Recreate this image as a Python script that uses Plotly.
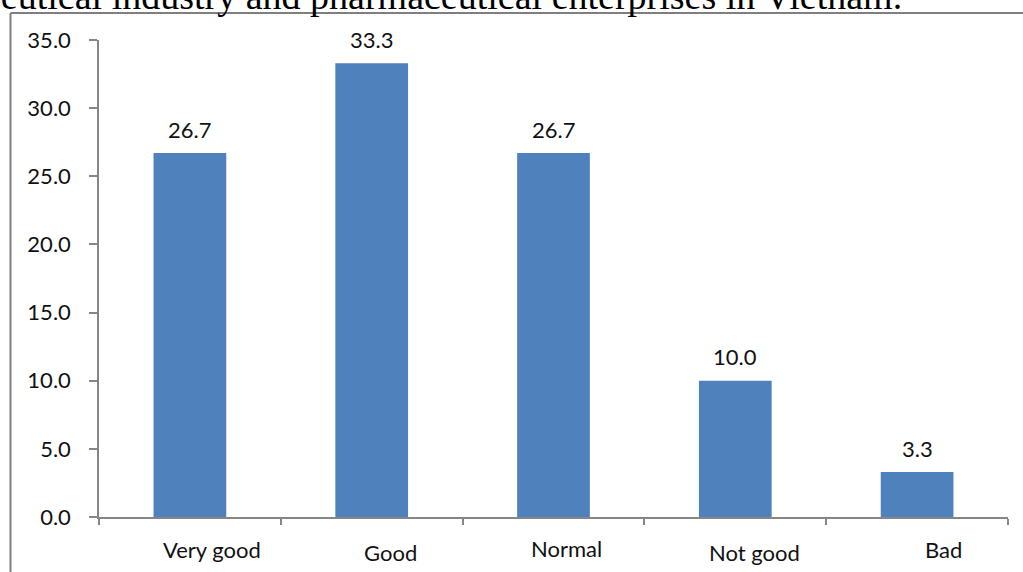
import plotly.graph_objects as go

categories = ["Very good", "Good", "Normal", "Not good", "Bad"]
values = [26.7, 33.3, 26.7, 10.0, 3.3]
value_labels = ["26.7", "33.3", "26.7", "10.0", "3.3"]
y_ticks = [0, 5, 10, 15, 20, 25, 30, 35]
caption = "ceutical industry and pharmaceutical enterprises in Vietnam."

# label placement tweaks (pixels) to mimic the original's slightly uneven labels
label_xshift = [22, 19, 13, 19, 26]
label_ypix = [549, 552, 548, 552, 549]

W, H = 1023, 572
L, R, T, B = 99, 15, 40, 55
PW, PH = W - L - R, H - T - B

def py(p):
    return (H - B - p) / PH

def px(p):
    return (p - L) / PW

fig = go.Figure()
fig.add_trace(go.Bar(
    x=categories, y=values, width=0.4,
    marker=dict(color="#4F81BD", line=dict(width=0)),
    hoverinfo="skip",
))

font_main = "Lato, Open Sans, sans-serif"
ann = []
for c, v, t in zip(categories, values, value_labels):
    ann.append(dict(x=c, y=v, xref="x", yref="y", text=t, showarrow=False,
                    yanchor="middle", yshift=24,
                    font=dict(family=font_main, size=22, color="#111111")))
for c, xs, yp in zip(categories, label_xshift, label_ypix):
    ann.append(dict(x=c, y=py(yp), xref="x", yref="paper", text=c, showarrow=False,
                    yanchor="middle", xshift=xs,
                    font=dict(family=font_main, size=22, color="#111111")))
ann.append(dict(x=px(-18), y=py(-4), xref="paper", yref="paper", text=caption,
                showarrow=False, xanchor="left", yanchor="middle",
                font=dict(family="Liberation Serif, Times New Roman, serif", size=38, color="#000000")))

shapes = [
    dict(type="line", xref="paper", yref="paper", x0=px(10.5), x1=px(1030),
         y0=py(13), y1=py(13), line=dict(color="#7f7f7f", width=2)),
    dict(type="line", xref="paper", yref="paper", x0=px(10.5), x1=px(10.5),
         y0=py(13), y1=py(580), line=dict(color="#7f7f7f", width=2)),
]

fig.update_layout(
    width=W, height=H,
    margin=dict(l=L, r=R, t=T, b=B),
    paper_bgcolor="white", plot_bgcolor="white",
    showlegend=False,
    annotations=ann, shapes=shapes,
    xaxis=dict(
        showline=True, linecolor="#868686", linewidth=1.5,
        ticks="outside", tickson="boundaries", ticklen=6, tickwidth=1.5, tickcolor="#868686",
        showticklabels=False, showgrid=False, zeroline=False,
    ),
    yaxis=dict(
        range=[0, 35], tickvals=y_ticks, tickformat=".1f",
        showline=True, linecolor="#868686", linewidth=1.5,
        ticks="outside", ticklen=8, tickwidth=1.5, tickcolor="#868686",
        showgrid=False, zeroline=False, ticklabelstandoff=14,
        tickfont=dict(family=font_main, size=22, color="#111111"),
    ),
)

fig.write_html("out.html")
